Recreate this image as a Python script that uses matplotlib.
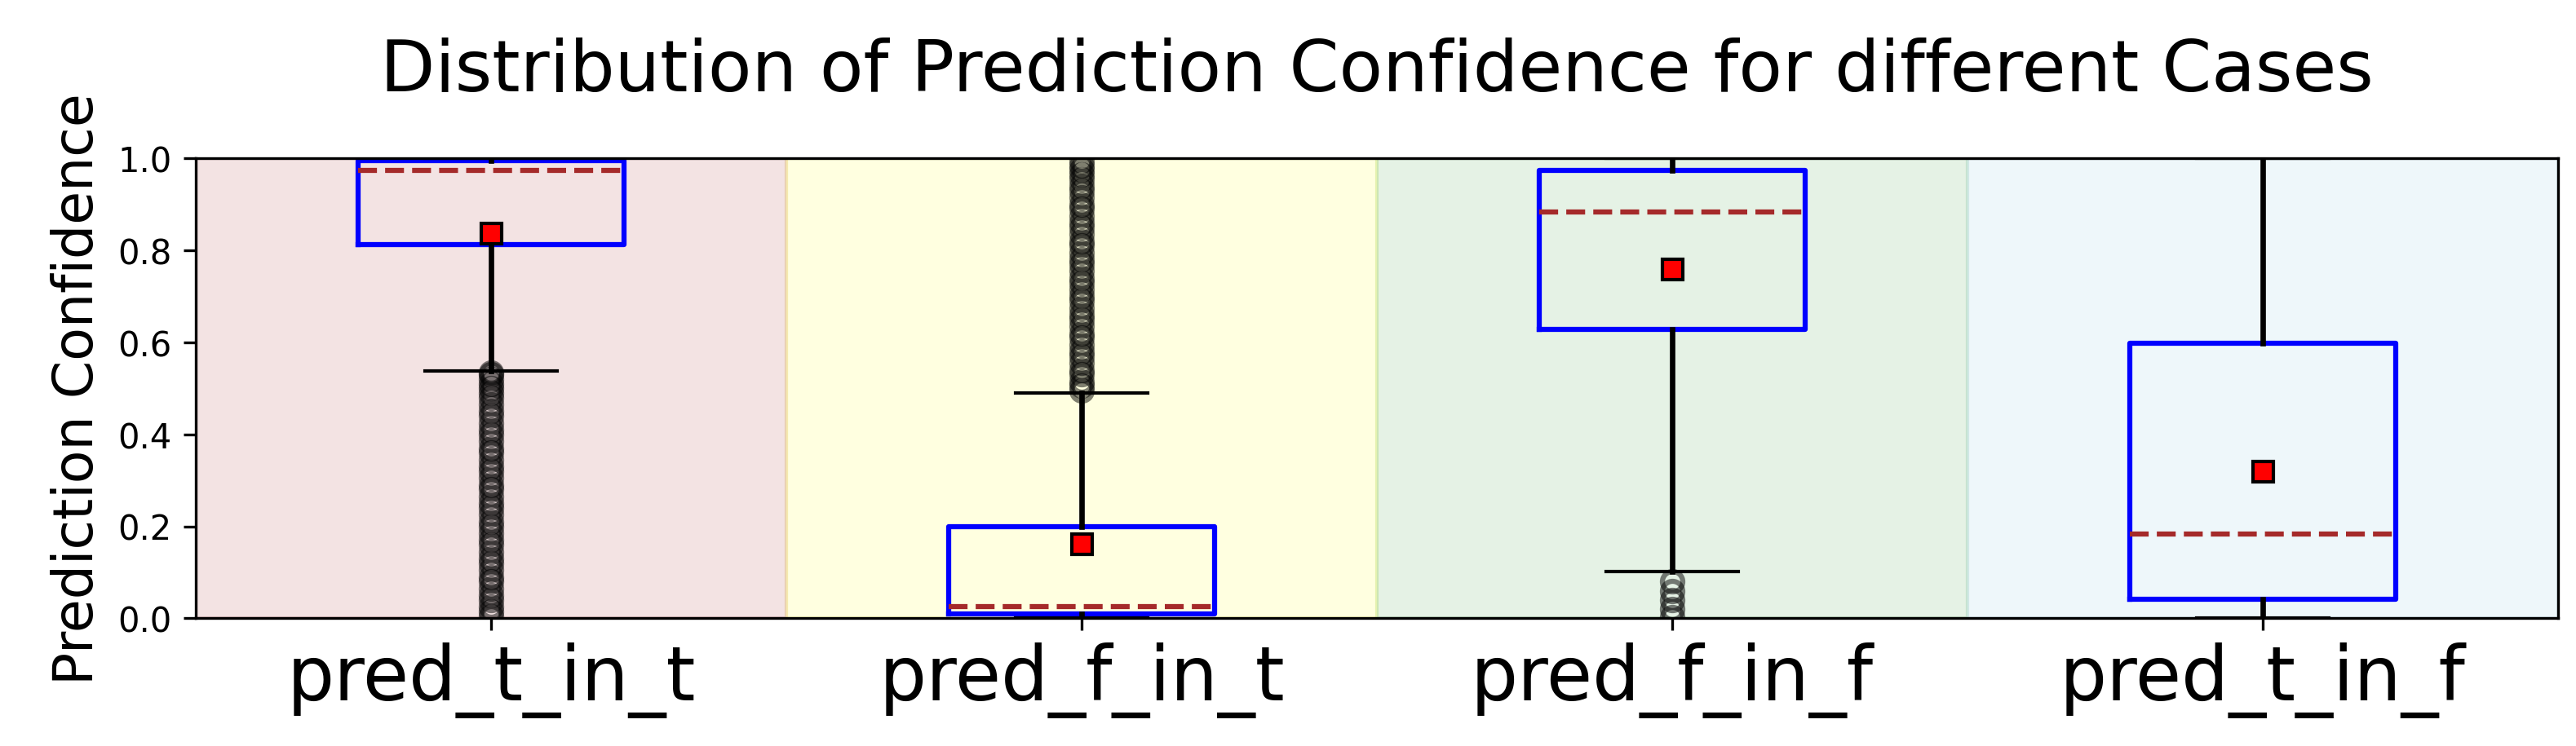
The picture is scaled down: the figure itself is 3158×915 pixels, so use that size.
import numpy as np
import matplotlib
matplotlib.use("Agg")
import matplotlib.pyplot as plt

# Cases and box statistics
cases = ["pred_t_in_t", "pred_f_in_t", "pred_f_in_f", "pred_t_in_f"]
q1 = [0.812, 0.009, 0.628, 0.042]
q3 = [0.995, 0.200, 0.974, 0.598]
medians = [0.974, 0.025, 0.884, 0.183]
means = [0.838, 0.162, 0.759, 0.320]
whisker_lo = [0.538, 0.0, 0.101, 0.0]
whisker_hi = [1.0, 0.489, 1.0, 1.0]

# outliers (estimated positions of the dense flier columns)
fliers_t_in_t = [0.004, 0.015, 0.025, 0.04, 0.05, 0.065, 0.08, 0.09, 0.105, 0.12,
                 0.13, 0.145, 0.16, 0.17, 0.185, 0.2, 0.21, 0.225, 0.24, 0.25,
                 0.265, 0.28, 0.29, 0.305, 0.32, 0.33, 0.345, 0.36, 0.37, 0.385,
                 0.4, 0.41, 0.425, 0.44, 0.45, 0.465, 0.48, 0.49, 0.5, 0.51,
                 0.52, 0.53, 0.535]
fliers_f_in_t = [0.495, 0.505, 0.515, 0.53, 0.54, 0.555, 0.57, 0.58, 0.595, 0.61,
                 0.62, 0.635, 0.65, 0.66, 0.675, 0.69, 0.70, 0.715, 0.73, 0.74,
                 0.755, 0.77, 0.78, 0.795, 0.81, 0.82, 0.835, 0.85, 0.86, 0.875,
                 0.89, 0.90, 0.915, 0.93, 0.94, 0.955, 0.965, 0.975, 0.985, 0.995]
fliers_f_in_f = [0.002, 0.02, 0.04, 0.06, 0.08]
fliers_t_in_f = []

band_colors = ["brown", "yellow", "green", "lightblue"]
band_alpha = [0.13, 0.12, 0.1, 0.2]

fliers = [fliers_t_in_t, fliers_f_in_t, fliers_f_in_f, fliers_t_in_f]
stats = []
for i, name in enumerate(cases):
    stats.append({
        "label": name,
        "q1": q1[i], "q3": q3[i], "med": medians[i], "mean": means[i],
        "whislo": whisker_lo[i], "whishi": whisker_hi[i],
        "fliers": np.array(fliers[i]),
    })

fig = plt.figure(figsize=(10.527, 3.053), dpi=300)
ax = fig.add_axes([0.076, 0.171, 0.917, 0.616])

for i, c in enumerate(band_colors):
    ax.axvspan(i + 0.5, i + 1.5, color=c, alpha=band_alpha[i])

ax.bxp(stats, positions=range(1, 5), widths=0.45, showmeans=True,
       boxprops=dict(color="blue", linewidth=1.5),
       medianprops=dict(color="brown", linewidth=1.5, linestyle="--"),
       meanprops=dict(marker="s", markerfacecolor="red", markeredgecolor="black",
                      markersize=6),
       whiskerprops=dict(color="black", linewidth=1.6),
       capprops=dict(color="black", linewidth=1.0),
       flierprops=dict(marker="o", markerfacecolor="none", markeredgecolor="black",
                       markersize=6, markeredgewidth=1.5, alpha=0.5))

ax.set_xlim(0.5, 4.5)
ax.set_ylim(0, 1)
ax.set_xticks(range(1, 5))
ax.set_xticklabels(cases, fontsize=22)
ax.tick_params(axis="y", labelsize=10)
ax.set_ylabel("Prediction Confidence", fontsize=16)
ax.set_title("Distribution of Prediction Confidence for different Cases",
             fontsize=21, pad=20)

fig.savefig("out.png", dpi=300)
